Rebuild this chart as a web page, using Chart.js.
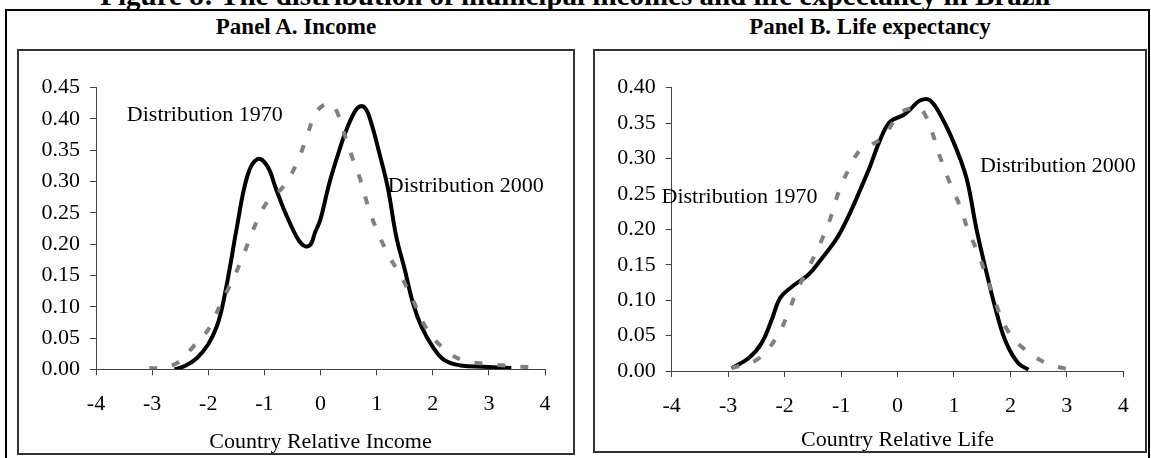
<!DOCTYPE html>
<html>
<head>
<meta charset="utf-8">
<script src="https://cdn.jsdelivr.net/npm/chart.js@4/dist/chart.umd.min.js"></script>
<style>
  body { margin: 0; background: #fff; width: 1151px; height: 458px; overflow: hidden; position: relative; font-family: "Liberation Serif", "Times New Roman", serif; }
  #figTitle { position: absolute; left: 0; width: 1151px; top: -20px; text-align: center; font-weight: bold; font-size: 29px; line-height: 30px; white-space: nowrap; }
  #outer { position: absolute; left: 5px; top: 9px; width: 1145px; height: 470px; border: 2px solid #000; box-sizing: border-box; }
  .panelTitle { position: absolute; top: 15px; text-align: center; font-weight: bold; font-size: 23px; line-height: 24px; white-space: nowrap; }
  .frame { position: absolute; border: 2px solid #333; box-sizing: border-box; pointer-events: none; }
  canvas { position: absolute; }
</style>
</head>
<body>
<div id="figTitle">Figure 8: The distribution of municipal incomes and life expectancy in Brazil</div>
<div id="outer"></div>
<div class="panelTitle" style="left:17px;width:558px;">Panel A. Income</div>
<div class="panelTitle" style="left:593px;width:554px;">Panel B. Life expectancy</div>
<canvas id="incomeChart" width="558" height="406" style="left:17px;top:49px;"></canvas>
<canvas id="lifeChart" width="554" height="404" style="left:593px;top:49px;"></canvas>
<div class="frame" style="left:17px;top:49px;width:558px;height:406px;"></div>
<div class="frame" style="left:593px;top:49px;width:554px;height:404px;"></div>

<script>
// Panel A: relative income densities
const incomeX1970 = [-3.05, -2.9, -2.62, -2.45, -2.27, -2.1, -1.97, -1.76, -1.55, -1.37, -1.2, -0.96, -0.66, -0.42, -0.25, -0.1, 0.05, 0.2, 0.3, 0.4, 0.56, 0.71, 0.85, 1.0, 1.21, 1.45, 1.66, 1.87, 2.16, 2.52, 3.0, 3.44, 3.9];
const income1970 = [0.002, 0.002, 0.007, 0.018, 0.036, 0.052, 0.068, 0.108, 0.146, 0.183, 0.223, 0.266, 0.292, 0.33, 0.37, 0.407, 0.422, 0.424, 0.41, 0.383, 0.34, 0.303, 0.26, 0.223, 0.183, 0.146, 0.108, 0.068, 0.036, 0.015, 0.0085, 0.005, 0.0026];
const incomeX2000 = [-2.6, -2.4, -2.2, -2.0, -1.85, -1.75, -1.6, -1.5, -1.3, -1.12, -0.95, -0.8, -0.65, -0.5, -0.38, -0.28, -0.18, -0.1, 0.0, 0.15, 0.3, 0.45, 0.6, 0.7, 0.8, 0.9, 1.05, 1.2, 1.35, 1.5, 1.65, 1.8, 2.0, 2.2, 2.5, 2.9, 3.4];
const income2000 = [0.0, 0.006, 0.018, 0.04, 0.068, 0.1, 0.17, 0.222, 0.31, 0.336, 0.325, 0.29, 0.255, 0.225, 0.205, 0.197, 0.199, 0.218, 0.24, 0.295, 0.34, 0.38, 0.41, 0.42, 0.417, 0.395, 0.345, 0.29, 0.212, 0.16, 0.105, 0.068, 0.036, 0.015, 0.006, 0.004, 0.002];

// Panel B: relative life expectancy densities
const lifeX1970 = [-2.94, -2.49, -2.17, -1.96, -1.79, -1.58, -1.37, -1.2, -1.05, -0.87, -0.66, -0.45, -0.25, 0.04, 0.2, 0.37, 0.5, 0.61, 0.75, 0.93, 1.11, 1.25, 1.4, 1.58, 1.73, 1.93, 2.23, 2.64, 3.04];
const life1970 = [0.004, 0.016, 0.044, 0.077, 0.112, 0.145, 0.18, 0.213, 0.251, 0.284, 0.312, 0.32, 0.331, 0.364, 0.37, 0.373, 0.36, 0.338, 0.303, 0.265, 0.232, 0.199, 0.171, 0.133, 0.098, 0.06, 0.032, 0.011, 0.002];
const lifeX2000 = [-2.94, -2.64, -2.41, -2.23, -2.08, -1.87, -1.58, -1.34, -1.11, -0.99, -0.83, -0.66, -0.49, -0.31, -0.13, 0.1, 0.22, 0.4, 0.58, 0.81, 1.05, 1.23, 1.4, 1.58, 1.76, 1.93, 2.14, 2.32];
const life2000 = [0.004, 0.018, 0.039, 0.072, 0.103, 0.119, 0.136, 0.159, 0.183, 0.199, 0.225, 0.256, 0.288, 0.326, 0.352, 0.361, 0.369, 0.382, 0.382, 0.354, 0.312, 0.27, 0.2, 0.138, 0.081, 0.039, 0.011, 0.002];

const xTicks = [-4, -3, -2, -1, 0, 1, 2, 3, 4];
const seriesNames = ["Distribution 1970", "Distribution 2000"];

const FONT = { family: "'Liberation Serif', 'Times New Roman', serif", size: 22 };
const AXIS_COLOR = "#444";

function toPoints(xs, ys) {
    return xs.map((x, i) => ({ x: x, y: ys[i] }));
}

// writes the series names next to the curves, placed in data units
const curveLabels = {
    id: "curveLabels",
    afterDatasetsDraw(chart, args, opts) {
        const ctx = chart.ctx;
        ctx.save();
        ctx.font = FONT.size + "px " + FONT.family;
        ctx.fillStyle = "#000";
        ctx.textAlign = "left";
        ctx.textBaseline = "alphabetic";
        opts.items.forEach(item => {
            ctx.fillText(item.text, chart.scales.x.getPixelForValue(item.x), chart.scales.y.getPixelForValue(item.y));
        });
        ctx.restore();
    }
};

function makePanel(canvasId, d1970, d2000, yMax, xTitle, frame, labels) {
    const ctx = document.getElementById(canvasId).getContext("2d");
    return new Chart(ctx, {
        type: "scatter",
        data: {
            datasets: [{
                label: seriesNames[0],
                data: d1970,
                showLine: true,
                borderColor: "#808080",
                borderWidth: 4,
                borderDash: [8, 15],
                borderCapStyle: "butt",
                pointRadius: 0,
                tension: 0.4
            }, {
                label: seriesNames[1],
                data: d2000,
                showLine: true,
                borderColor: "#000",
                borderWidth: 4,
                borderJoinStyle: "round",
                pointRadius: 0,
                tension: 0.4
            }]
        },
        options: {
            responsive: false,
            animation: false,
            devicePixelRatio: 1,
            layout: { padding: { left: 0, top: frame.top, right: frame.right, bottom: 0 } },
            plugins: {
                legend: { display: false },
                tooltip: { enabled: false },
                curveLabels: { items: labels }
            },
            scales: {
                x: {
                    type: "linear",
                    min: -4,
                    max: 4,
                    afterBuildTicks: axis => { axis.ticks = xTicks.map(v => ({ value: v })); },
                    afterFit: axis => { axis.height = frame.xHeight; },
                    ticks: { color: "#000", font: FONT, padding: 16, maxRotation: 0 },
                    grid: { drawOnChartArea: false, drawTicks: true, tickLength: 6, tickColor: AXIS_COLOR },
                    border: { display: true, color: AXIS_COLOR, width: 1 },
                    title: { display: true, text: xTitle, color: "#000", font: FONT, padding: 0 }
                },
                y: {
                    min: 0,
                    max: yMax,
                    ticks: { stepSize: 0.05, color: "#000", font: FONT, padding: 10, callback: v => v.toFixed(2) },
                    afterFit: axis => { axis.width = frame.yWidth; },
                    grid: { drawOnChartArea: false, drawTicks: true, tickLength: 6, tickColor: AXIS_COLOR },
                    border: { display: true, color: AXIS_COLOR, width: 1 }
                }
            }
        },
        plugins: [curveLabels]
    });
}

makePanel("incomeChart",
    toPoints(incomeX1970, income1970),
    toPoints(incomeX2000, income2000),
    0.45, "Country Relative Income",
    { top: 38.7, right: 30, xHeight: 85.7, yWidth: 79 },
    [{ text: seriesNames[0], x: -3.45, y: 0.396 },
     { text: seriesNames[1], x: 1.2, y: 0.283 }]);

makePanel("lifeChart",
    toPoints(lifeX1970, life1970),
    toPoints(lifeX2000, life2000),
    0.40, "Country Relative Life",
    { top: 38.7, right: 23.7, xHeight: 82, yWidth: 78.7 },
    [{ text: seriesNames[0], x: -4.18, y: 0.237 },
     { text: seriesNames[1], x: 1.46, y: 0.281 }]);
</script>
</body>
</html>
